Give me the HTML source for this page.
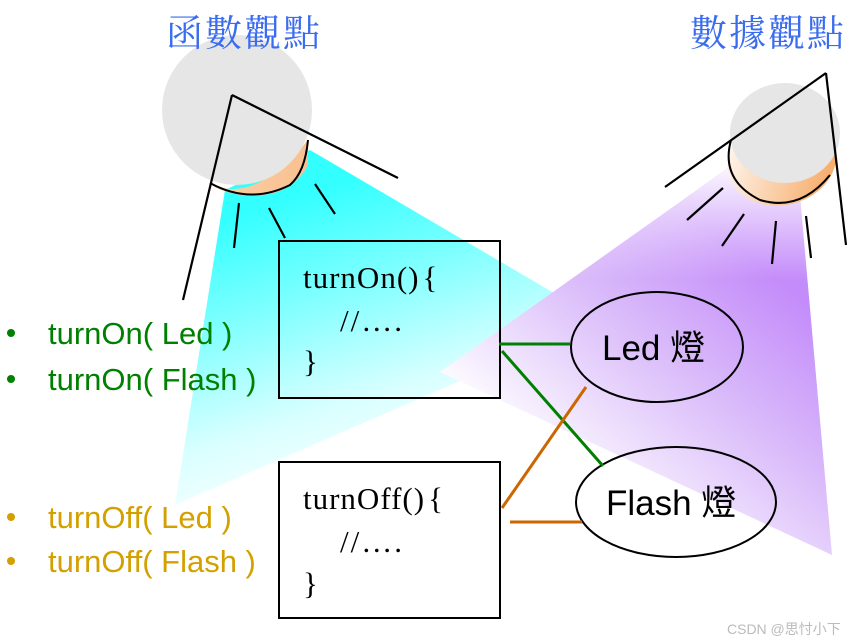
<!DOCTYPE html>
<html><head><meta charset="utf-8"><style>
html,body{margin:0;padding:0;background:#fff;}
svg{display:block;}
</style></head><body>
<svg width="860" height="643" viewBox="0 0 860 643" xmlns="http://www.w3.org/2000/svg">
<defs>
<linearGradient id="cy" gradientUnits="userSpaceOnUse" x1="250" y1="210" x2="340" y2="500">
<stop offset="0" stop-color="#3ff"/>
<stop offset="0.3" stop-color="#7ff"/>
<stop offset="0.7" stop-color="#d8ffff"/>
<stop offset="1" stop-color="#fff"/>
</linearGradient>
<linearGradient id="pu" gradientUnits="userSpaceOnUse" x1="790" y1="290" x2="600" y2="520">
<stop offset="0" stop-color="#c48cfa"/>
<stop offset="0.4" stop-color="#d8b8fa"/>
<stop offset="1" stop-color="#fff"/>
</linearGradient>
<linearGradient id="pu2" gradientUnits="userSpaceOnUse" x1="0" y1="170" x2="0" y2="280">
<stop offset="0" stop-color="#fff" stop-opacity="0.9"/>
<stop offset="1" stop-color="#fff" stop-opacity="0"/>
</linearGradient>
<linearGradient id="or1" x1="0" y1="0" x2="1" y2="0">
<stop offset="0" stop-color="#fcd0a8"/><stop offset="1" stop-color="#f8c090"/>
</linearGradient>
<linearGradient id="or2" x1="0" y1="0" x2="1" y2="0.5">
<stop offset="0" stop-color="#fff"/><stop offset="1" stop-color="#f7b070"/>
</linearGradient>
</defs>
<polygon points="225,190 310,150 600,320 175,505" fill="url(#cy)"/>
<polygon points="728,168 800,196 832,555 440,372" fill="url(#pu)"/>
<polygon points="728,168 800,196 832,555 440,372" fill="url(#pu2)"/>
<path d="M205,180 Q250,210 308,140 L308,165 Q290,200 240,195 Q215,190 210,183 Z" fill="url(#or1)"/>
<circle cx="237" cy="110" r="75" fill="#e6e6e6"/>
<path d="M210,183 Q250,205 290,185 Q305,172 308,140" fill="none" stroke="#000" stroke-width="2"/>
<g stroke="#000" stroke-width="2.2" fill="none">
<line x1="232" y1="95" x2="183" y2="300"/>
<line x1="232" y1="95" x2="398" y2="178"/>
<line x1="239" y1="203" x2="234" y2="248"/>
<line x1="269" y1="208" x2="285" y2="238"/>
<line x1="315" y1="184" x2="335" y2="214"/>
</g>
<ellipse cx="782" cy="160" rx="55" ry="45" transform="rotate(-15 782 160)" fill="url(#or2)"/>
<ellipse cx="785" cy="133" rx="55" ry="50" fill="#e6e6e6"/>
<path d="M731,140 Q720,180 760,200 Q800,212 830,175" fill="none" stroke="#000" stroke-width="2"/>
<g stroke="#000" stroke-width="2.2" fill="none">
<line x1="826" y1="73" x2="665" y2="187"/>
<line x1="826" y1="73" x2="846" y2="245"/>
<line x1="723" y1="188" x2="687" y2="220"/>
<line x1="744" y1="214" x2="722" y2="246"/>
<line x1="776" y1="221" x2="772" y2="264"/>
<line x1="806" y1="216" x2="811" y2="258"/>
</g>
<text x="166" y="46" font-family="'Noto Serif CJK SC','Noto Serif CJK TC',serif" font-size="37" fill="#3a6cf0" letter-spacing="2">函數觀點</text>
<text x="690" y="46" font-family="'Noto Serif CJK SC','Noto Serif CJK TC',serif" font-size="37" fill="#3a6cf0" letter-spacing="2">數據觀點</text>
<rect x="279" y="241" width="221" height="157" fill="none" stroke="#000" stroke-width="2"/>
<rect x="279" y="462" width="221" height="156" fill="none" stroke="#000" stroke-width="2"/>
<g font-family="'Liberation Serif',serif" font-size="31" fill="#000">
<text x="303" y="288" letter-spacing="1">turnOn()<tspan dx="3">{</tspan></text>
<text x="340" y="331" letter-spacing="2">//….</text>
<text x="303" y="372">}</text>
<text x="303" y="509" letter-spacing="1">turnOff()<tspan dx="3">{</tspan></text>
<text x="340" y="552" letter-spacing="2">//….</text>
<text x="303" y="594">}</text>
</g>
<ellipse cx="657" cy="347" rx="86" ry="55" fill="none" stroke="#000" stroke-width="2"/>
<ellipse cx="676" cy="502" rx="100" ry="55" fill="none" stroke="#000" stroke-width="2"/>
<g font-family="'Liberation Sans','Noto Sans CJK TC',sans-serif" font-size="35" fill="#000">
<text x="602" y="360">Led 燈</text>
<text x="606" y="515">Flash 燈</text>
</g>
<g stroke-width="3" fill="none">
<line x1="499" y1="344" x2="570" y2="344" stroke="#008000"/>
<line x1="502" y1="351" x2="603" y2="466" stroke="#008000"/>
<line x1="502" y1="508" x2="586" y2="387" stroke="#cc6600"/>
<line x1="510" y1="522" x2="582" y2="522" stroke="#cc6600"/>
</g>
<g font-family="'Liberation Sans',sans-serif" font-size="31">
<g fill="#008000">
<circle cx="11" cy="333" r="4"/><circle cx="11" cy="379" r="4"/>
<text x="48" y="344">turnOn( Led )</text>
<text x="48" y="390">turnOn( Flash )</text>
</g>
<g fill="#d4a000">
<circle cx="11" cy="517" r="4"/><circle cx="11" cy="561" r="4"/>
<text x="48" y="528">turnOff( Led )</text>
<text x="48" y="572">turnOff( Flash )</text>
</g>
</g>
<text x="727" y="634" font-family="'Liberation Sans','Noto Sans CJK SC',sans-serif" font-size="14" fill="#bbb">CSDN @思忖小下</text>
</svg>
</body></html>
